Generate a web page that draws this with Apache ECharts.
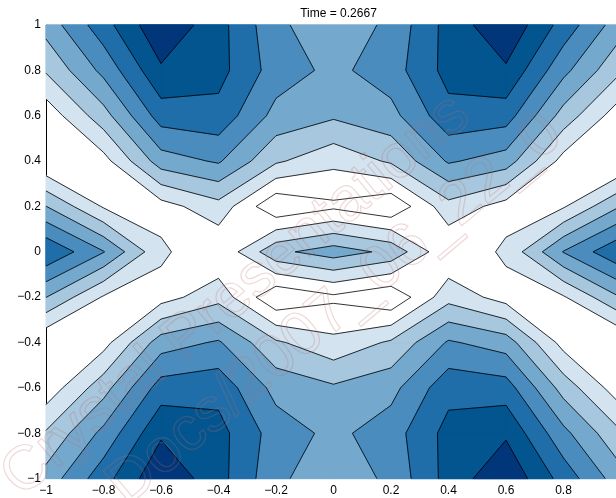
<!DOCTYPE html>
<html>
<head>
<meta charset="utf-8">
<script src="https://cdn.jsdelivr.net/npm/echarts@6/dist/echarts.min.js"></script>
<style>
  html, body { margin: 0; padding: 0; background: #ffffff; }
  #chart { width: 616px; height: 498px; }
</style>
</head>
<body>
<div id="chart"></div>
<script>
// Grid nodes of the solution field
const xNodes = [-1, -0.8, -0.6, -0.4, -0.2, 0, 0.2, 0.4, 0.6, 0.8, 1];
const yNodes = [-1, -0.8, -0.6, -0.4, -0.2, 0, 0.2, 0.4, 0.6, 0.8, 1];

// Field values, one row per y node (bottom to top), one entry per x node
const zYm10 = [3.4, 5.6, 7.84, 6.37, 4.26, 3.2, 4.26, 6.37, 7.84, 5.6, 3.4];
const zYm08 = [2.11, 4.28, 6.85, 6.35, 4.53, 3.74, 4.53, 6.35, 6.85, 4.28, 2.11];
const zYm06 = [0.35, 2.6, 5.47, 5.66, 3.67, 3.15, 3.67, 5.66, 5.47, 2.6, 0.35];
const zYm04 = [0.04, 0.62, 3.52, 4.12, 2.15, 1.27, 2.15, 4.12, 3.52, 0.62, 0.04];
const zYm02 = [3.02, 0.9, 0.58, 1.64, -0.87, -0.2, -0.87, 1.64, 0.58, 0.9, 3.02];
const zY00  = [5.9, 4.05, 1.2, 0.1, 2.75, 3.5, 2.75, 0.1, 1.2, 4.05, 5.9];
const zYp02 = [3.02, 0.9, 0.58, 1.64, -0.87, -0.2, -0.87, 1.64, 0.58, 0.9, 3.02];
const zYp04 = [0.04, 0.62, 3.52, 4.12, 2.15, 1.27, 2.15, 4.12, 3.52, 0.62, 0.04];
const zYp06 = [0.35, 2.6, 5.47, 5.66, 3.67, 3.15, 3.67, 5.66, 5.47, 2.6, 0.35];
const zYp08 = [2.11, 4.28, 6.85, 6.35, 4.53, 3.74, 4.53, 6.35, 6.85, 4.28, 2.11];
const zYp10 = [3.4, 5.6, 7.84, 6.37, 4.26, 3.2, 4.26, 6.37, 7.84, 5.6, 3.4];

// Contour levels and the fill colour of the band starting at each level
const levels = [0, 1, 2, 3, 4, 5, 6, 7];
const bandColors = ['#ffffff', '#d3e3ef', '#a6c7dd', '#74a9cd', '#4a8cbe', '#1f6ea9', '#03558f', '#02367a'];

const titleText = 'Time = 0.2667';
const stampLines = ['Crystal Presentations', 'Docs/2007_06_22_0'];

const zGrid = [zYm10, zYm08, zYm06, zYm04, zYm02, zY00, zYp02, zYp04, zYp06, zYp08, zYp10];

// one item per grid cell: [x0, y0, i, j]
const cells = [];
for (let j = 0; j < yNodes.length - 1; j++) {
  for (let i = 0; i < xNodes.length - 1; i++) {
    cells.push([xNodes[i], yNodes[j], i, j]);
  }
}
// fill items ordered by level so that higher bands are painted last: [x0, y0, i, j, k]
const fillItems = [];
for (let k = 1; k < levels.length; k++) {
  cells.forEach(function (c) { fillItems.push(c.concat([k])); });
}

function cellCorners(i, j) {
  return [[i, j], [i + 1, j], [i + 1, j + 1], [i, j + 1]].map(function (c) {
    return { x: xNodes[c[0]], y: yNodes[c[1]], z: zGrid[c[1]][c[0]] };
  });
}

function lerpPoint(a, b, L) {
  const t = (L - a.z) / (b.z - a.z);
  return { x: a.x + t * (b.x - a.x), y: a.y + t * (b.y - a.y), z: L };
}

// edge crossings of level L, indexed by edge (edge k joins corner k and k+1)
function edgeHits(c, L) {
  const hits = [];
  for (let e = 0; e < 4; e++) {
    const a = c[e], b = c[(e + 1) % 4];
    hits.push((a.z - L) * (b.z - L) < 0 ? lerpPoint(a, b, L) : null);
  }
  return hits;
}

// polygons of a cell where the field is at or above L (linear along edges,
// saddles resolved by the cell mean)
function regionsAbove(c, L) {
  const hits = edgeHits(c, L);
  const nHits = hits.filter(function (h) { return h; }).length;
  const centre = (c[0].z + c[1].z + c[2].z + c[3].z) / 4;
  if (nHits === 4 && centre < L) {
    const parts = [];
    for (let k = 0; k < 4; k++) {
      if (c[k].z >= L) parts.push([hits[(k + 3) % 4], c[k], hits[k]]);
    }
    return parts;
  }
  const out = [];
  for (let k = 0; k < 4; k++) {
    const a = c[k], b = c[(k + 1) % 4];
    const ina = a.z >= L, inb = b.z >= L;
    if (ina) out.push(a);
    if (ina !== inb) out.push(lerpPoint(a, b, L));
  }
  return out.length >= 3 ? [out] : [];
}

function renderFill(params, api) {
  const corners = cellCorners(api.value(2), api.value(3));
  const k = api.value(4);
  const children = regionsAbove(corners, levels[k]).map(function (poly) {
    return {
      type: 'polygon',
      shape: { points: poly.map(function (p) { return api.coord([p.x, p.y]); }) },
      style: { fill: bandColors[k], stroke: bandColors[k], lineWidth: 1 }
    };
  });
  return { type: 'group', children: children };
}

function renderLines(params, api) {
  const c = cellCorners(api.value(2), api.value(3));
  const centre = (c[0].z + c[1].z + c[2].z + c[3].z) / 4;
  const children = [];
  levels.forEach(function (L) {
    const hits = edgeHits(c, L);
    const found = hits.filter(function (h) { return h; });
    const segs = [];
    if (found.length === 2) {
      segs.push(found);
    } else if (found.length === 4) {
      if ((centre >= L) === (c[0].z >= L)) {
        segs.push([hits[0], hits[1]], [hits[2], hits[3]]);
      } else {
        segs.push([hits[3], hits[0]], [hits[1], hits[2]]);
      }
    }
    segs.forEach(function (s) {
      children.push({
        type: 'polyline',
        shape: { points: s.map(function (p) { return api.coord([p.x, p.y]); }) },
        style: { stroke: '#000000', lineWidth: 0.8, fill: null }
      });
    });
  });
  return { type: 'group', children: children };
}

const fontFamily = '"Liberation Sans", Arial, Helvetica, sans-serif';
function tickText(v) {
  return String(Math.round(v * 10) / 10).replace('-', '\u2212');
}

// faint diagonal stamp lettering laid over the plot
const stampAngle = 40 * Math.PI / 180;
const stampGraphics = [
  { x: 236, y: 296 },
  { x: 335, y: 310 }
].map(function (pos, n) {
  return {
    type: 'text',
    x: pos.x,
    y: pos.y,
    rotation: stampAngle,
    silent: true,
    z: 100,
    style: {
      text: stampLines[n],
      font: '62px ' + fontFamily,
      textAlign: 'center',
      textVerticalAlign: 'middle',
      fill: 'rgba(255,255,255,0)',
      stroke: 'rgba(190,110,110,0.26)',
      lineWidth: 1.2
    }
  };
});

const chart = echarts.init(document.getElementById('chart'), null, { renderer: 'canvas' });
chart.setOption({
  animation: false,
  backgroundColor: '#ffffff',
  title: {
    text: titleText,
    left: 333.5,
    top: 3,
    textAlign: 'center',
    textStyle: { fontSize: 12, fontWeight: 'normal', color: '#000000', fontFamily: fontFamily }
  },
  grid: { left: 46, top: 25, width: 575, height: 453.6, containLabel: false, outerBoundsMode: 'none' },
  xAxis: [{
    type: 'value', min: -1, max: 1, interval: 0.2,
    axisLine: { show: true, onZero: false, lineStyle: { color: '#000000', width: 1 } },
    axisTick: { show: false },
    splitLine: { show: false },
    axisLabel: { color: '#000000', fontSize: 12, fontFamily: fontFamily, margin: 6, formatter: tickText }
  }, {
    type: 'value', min: -1, max: 1, position: 'top',
    axisLine: { show: true, onZero: false, lineStyle: { color: '#000000', width: 1 } },
    axisTick: { show: false }, axisLabel: { show: false }, splitLine: { show: false }
  }],
  yAxis: [{
    type: 'value', min: -1, max: 1, interval: 0.2,
    axisLine: { show: true, onZero: false, lineStyle: { color: '#000000', width: 1 } },
    axisTick: { show: false },
    splitLine: { show: false },
    axisLabel: { color: '#000000', fontSize: 12, fontFamily: fontFamily, margin: 5, formatter: tickText }
  }, {
    type: 'value', min: -1, max: 1, position: 'right',
    axisLine: { show: true, onZero: false, lineStyle: { color: '#000000', width: 1 } },
    axisTick: { show: false }, axisLabel: { show: false }, splitLine: { show: false }
  }],
  graphic: stampGraphics,
  series: [{
    type: 'custom',
    name: 'bands',
    silent: true,
    renderItem: renderFill,
    encode: { x: 0, y: 1 },
    data: fillItems,
    z: 1
  }, {
    type: 'custom',
    name: 'contours',
    silent: true,
    renderItem: renderLines,
    encode: { x: 0, y: 1 },
    data: cells,
    z: 2
  }]
});
</script>
</body>
</html>
